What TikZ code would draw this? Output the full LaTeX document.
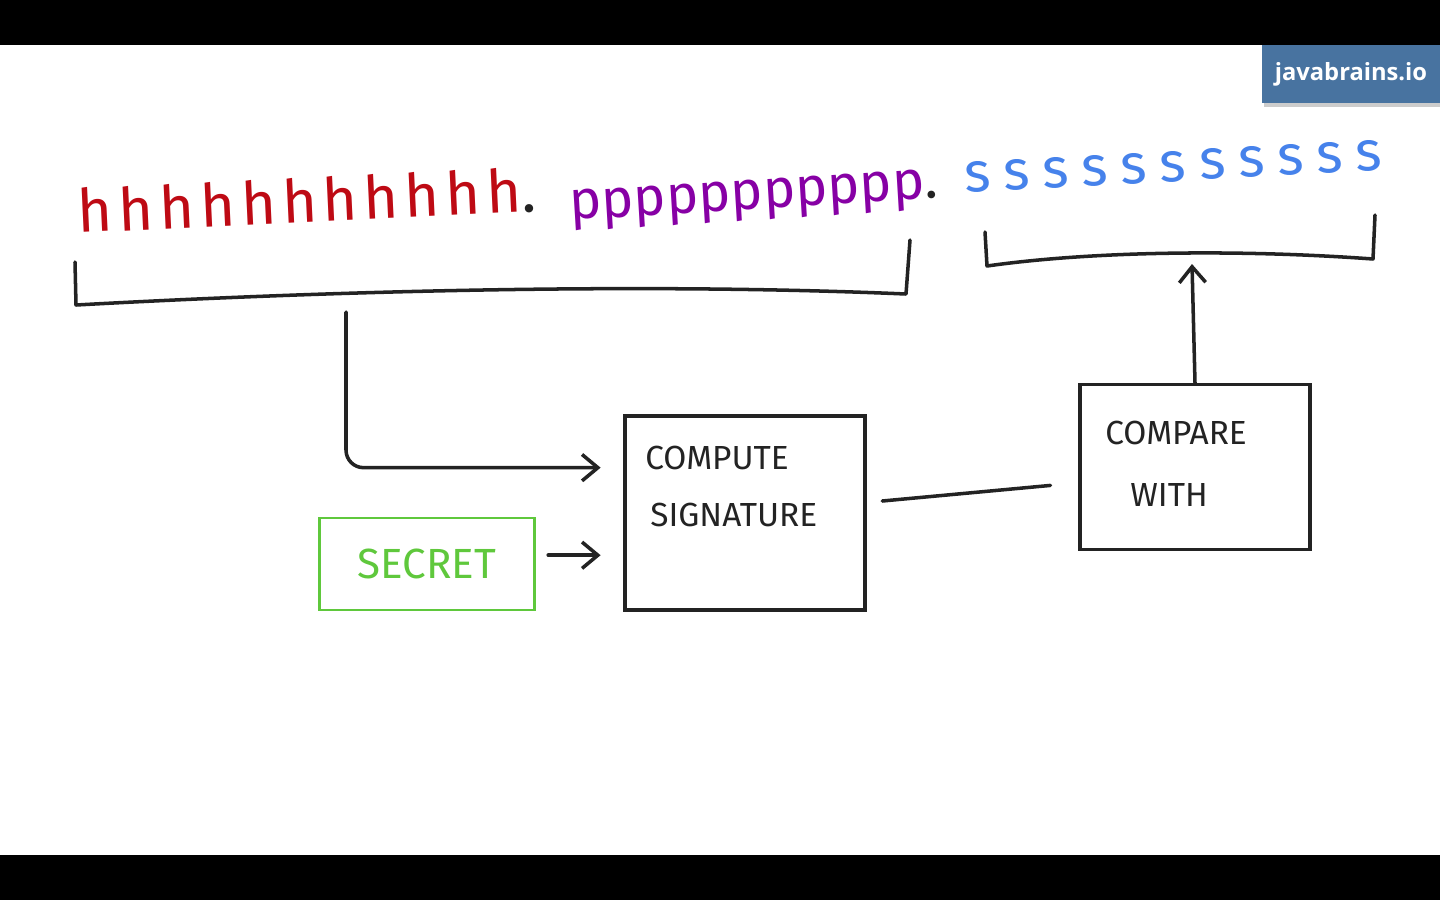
\documentclass[tikz,border=0pt]{standalone}
\usepackage{fontspec}
\setmainfont{Fira Sans}
\newfontfamily\logofont{Open Sans}
\usetikzlibrary{positioning, arrows.meta, calc, shadows}
\definecolor{HeadRed}{RGB}{190,10,20}
\definecolor{LoadPurple}{RGB}{135,0,165}
\definecolor{SigBlue}{RGB}{70,130,235}
\definecolor{SecretGreen}{RGB}{95,200,60}
\definecolor{LogoBlue}{RGB}{72,115,160}
\definecolor{InkBlack}{RGB}{35,35,35}
\tikzset{
  pen/.style={line width=2pt, InkBlack, line cap=round, line join=round},
  arr/.style={pen, -{Straight Barb[length=9pt, width=15pt]}},
  box/.style={draw=InkBlack, line width=1.8pt, inner sep=0pt},
  lbl/.style={font=\fontsize{19}{22}\selectfont, text=InkBlack, anchor=west, inner sep=0pt},
  part/.style={anchor=base west, inner sep=0pt},
}

\begin{document}
\begin{tikzpicture}[x=0.02cm, y=-0.02cm]
    \useasboundingbox (0,0) rectangle (1440,900);
    \fill[white] (0,0) rectangle (1440,900);
    % video bars
    \fill[black] (0,0) rectangle (1440,45);
    \fill[black] (0,855) rectangle (1440,900);
    \node[fill=LogoBlue, minimum width=3.56cm, minimum height=1.16cm, drop shadow={shadow xshift=1pt, shadow yshift=-2pt, opacity=0.4},
      font=\logofont\bfseries\fontsize{13.5}{15}\selectfont, text=white] (logo) at (1351,74) {javabrains.io};

    % the three parts of the token
    \node[part, rotate=2.7, text=HeadRed, font=\fontsize{34}{40}\selectfont\addfontfeatures{LetterSpace=10}] (head) at (78,233)
      {hhhhhhhhhhh\textcolor{InkBlack}{.}};
    \node[part, rotate=3.5, text=LoadPurple, font=\fontsize{31}{36}\selectfont] (load) at (570,220)
      {ppppppppppp\textcolor{InkBlack}{.}};
    \node[part, rotate=3.2, text=SigBlue, font=\fontsize{32}{38}\selectfont\addfontfeatures{LetterSpace=24}] (sign) at (965,193)
      {sssssssssss};

    % brackets under the parts
    \draw[pen] (75,262) -- (76,305) .. controls (350,290) and (650,283) .. (906,294) -- (910,240);
    \draw[pen] (985,232) -- (987,266) .. controls (1100,250) and (1250,250) .. (1373,259) -- (1375,215);
    \coordinate (hp) at (346,312);
    \coordinate (sig) at (1192,264);

    % boxes
    \node[box, minimum width=4.8cm, minimum height=3.88cm] (compute) at (745,513) {};
    \node[box, minimum width=4.6cm, minimum height=3.3cm] (compare) at (1195,467) {};
    \node[box, draw=SecretGreen, line width=1.6pt, minimum width=4.3cm, minimum height=1.84cm,
      text=SecretGreen, font=\fontsize{24}{28}\selectfont] (secret) at (427,564) {SECRET};
    \node[lbl] (c1) at (645,458) {COMPUTE};
    \node[lbl] (c2) at (650,515) {SIGNATURE};
    \node[lbl] (m1) at (1105,433) {COMPARE};
    \node[lbl] (m2) at (1130,495) {WITH};

    % connectors
    \draw[arr, rounded corners=10pt, shorten >=13pt] (hp) |- ($(compute.north west)!0.27!(compute.south west)$);
    \draw[arr, shorten <=7pt, shorten >=13pt] ([yshift=5pt]secret.east) -- ([yshift=5pt]secret.east -| compute.west);
    \draw[pen, shorten <=9pt, shorten >=16pt] ([yshift=6pt]compute.east) -- ([yshift=-9pt]compare.west);
    \draw[arr] (compare.north) -- (sig);
\end{tikzpicture}
\end{document}
